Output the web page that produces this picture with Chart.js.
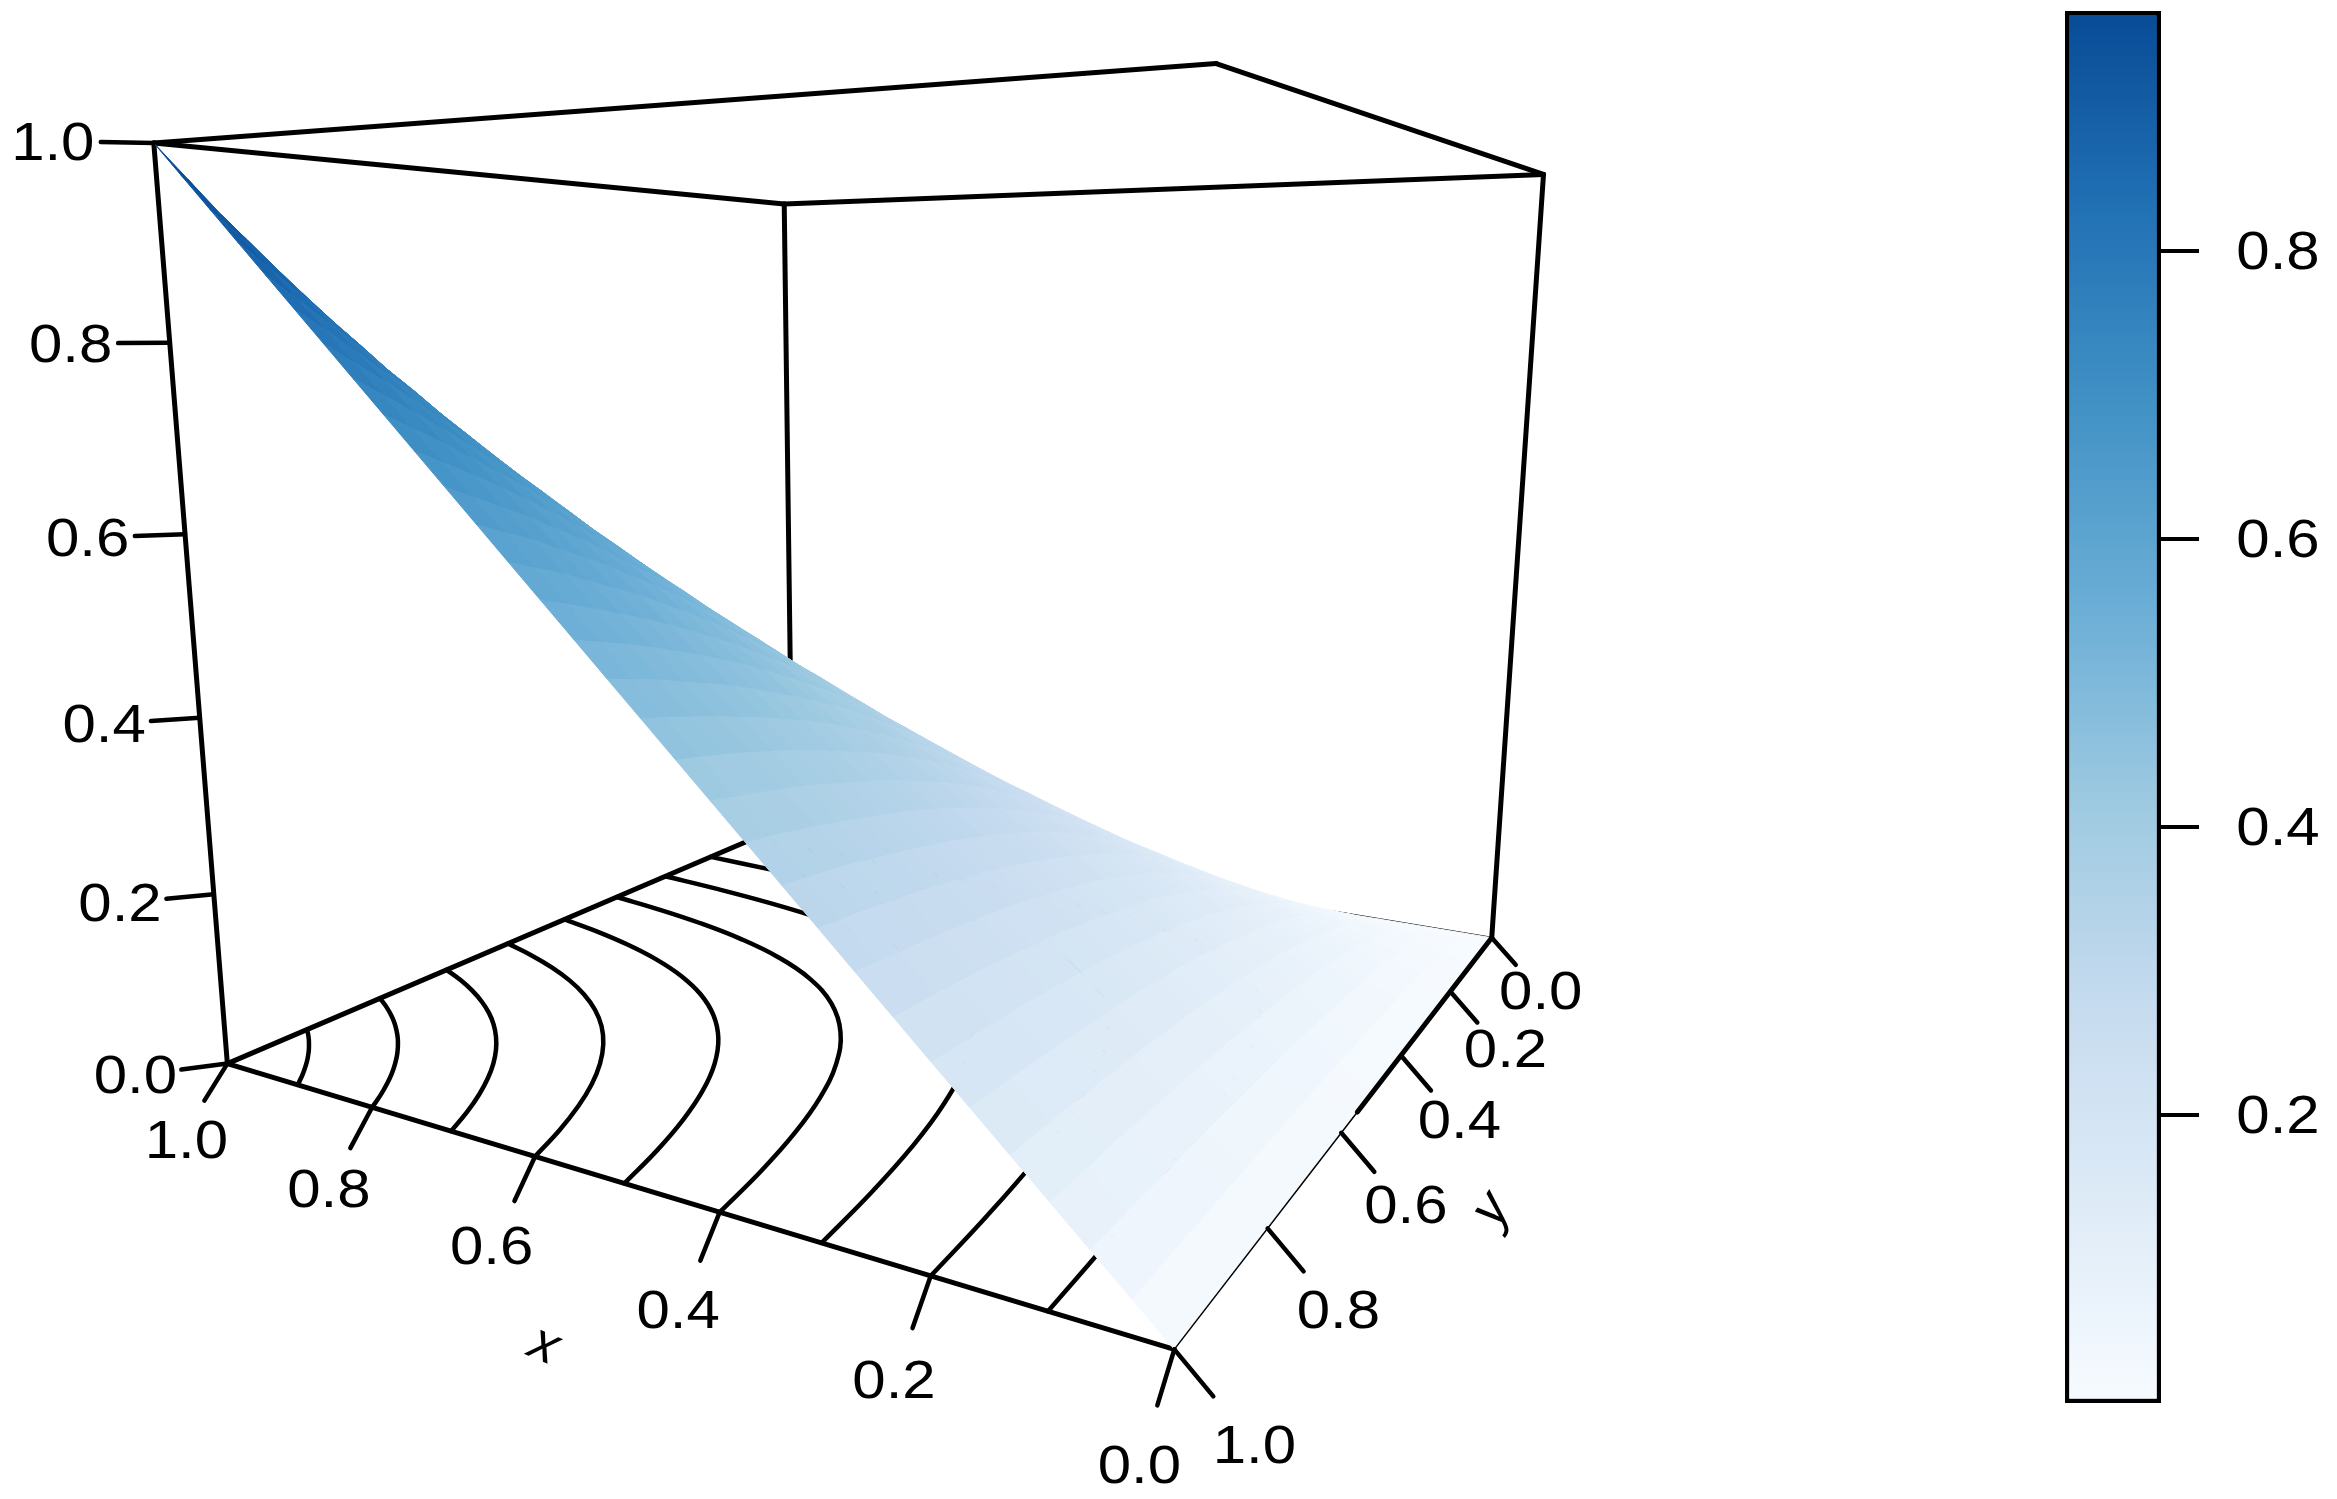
<!DOCTYPE html>
<html>
<head>
<meta charset="utf-8">
<title>Surface</title>
<script src="https://cdn.jsdelivr.net/npm/chart.js@4/dist/chart.umd.min.js"></script>
<style>
html, body { margin: 0; padding: 0; background: #fff; }
#wrap { position: relative; width: 2337px; height: 1499px; overflow: hidden; }
#surfaceChart { position: absolute; left: 0; top: 0; }
#keyChart { position: absolute; left: 2040px; top: 0; }
</style>
</head>
<body>
<div id="wrap">
<canvas id="surfaceChart" width="2337" height="1499"></canvas>
<canvas id="keyChart" width="297" height="1499"></canvas>
</div>
<script>
var gridX = [0, .033, .067, .1, .133, .167, .2, .233, .267, .3, .333, .367, .4, .433, .467, .5, .533, .567, .6, .633, .667, .7, .733, .767, .8, .833, .867, .9, .933, .967, 1];
var gridY = [0, .033, .067, .1, .133, .167, .2, .233, .267, .3, .333, .367, .4, .433, .467, .5, .533, .567, .6, .633, .667, .7, .733, .767, .8, .833, .867, .9, .933, .967, 1];
// surface height, upper triangle only (it is symmetric in x and y); row i starts at column j = i, both from 1
var surfaceZ = [
[.003,.006,.008,.011,.013,.015,.016,.018,.020,.021,.022,.023,.024,.025,.026,.027,.028,.029,.029,.030,.030,.031,.031,.032,.032,.032,.033,.033,.033,.033],
[.011,.016,.021,.025,.029,.032,.035,.039,.041,.044,.046,.048,.050,.052,.054,.055,.057,.058,.059,.060,.061,.062,.063,.064,.064,.065,.066,.066,.067],
[.023,.030,.036,.042,.047,.052,.057,.061,.065,.068,.072,.075,.077,.080,.082,.085,.087,.088,.090,.092,.093,.094,.095,.097,.098,.098,.099,.100],
[.039,.047,.054,.061,.068,.074,.080,.085,.090,.094,.098,.102,.106,.109,.112,.115,.117,.119,.122,.124,.125,.127,.128,.130,.131,.132,.133],
[.057,.066,.075,.083,.091,.098,.104,.110,.116,.121,.126,.131,.135,.139,.142,.146,.149,.151,.154,.156,.158,.160,.162,.164,.165,.167],
[.077,.088,.097,.107,.115,.123,.130,.137,.144,.150,.155,.160,.165,.170,.174,.177,.181,.184,.187,.190,.192,.194,.196,.198,.200],
[.100,.111,.122,.132,.141,.150,.158,.166,.173,.179,.185,.191,.196,.201,.206,.210,.214,.217,.221,.224,.226,.229,.231,.233],
[.124,.136,.147,.158,.168,.178,.187,.195,.203,.210,.216,.223,.228,.234,.239,.243,.247,.251,.255,.258,.261,.264,.267],
[.150,.162,.175,.186,.197,.207,.216,.225,.233,.241,.248,.255,.261,.267,.272,.277,.282,.286,.290,.294,.297,.300],
[.177,.190,.203,.215,.226,.237,.247,.257,.265,.274,.281,.288,.295,.301,.307,.312,.317,.322,.326,.330,.333],
[.205,.219,.233,.245,.257,.268,.279,.289,.298,.307,.315,.323,.330,.336,.342,.348,.353,.358,.363,.367],
[.235,.249,.263,.276,.289,.301,.312,.322,.332,.341,.350,.358,.365,.372,.379,.385,.390,.395,.400],
[.265,.281,.295,.309,.322,.334,.346,.357,.367,.376,.385,.394,.402,.409,.416,.422,.428,.433],
[.297,.313,.328,.342,.356,.368,.380,.392,.403,.413,.422,.431,.439,.447,.454,.461,.467],
[.330,.346,.362,.376,.391,.404,.416,.428,.439,.450,.460,.469,.477,.486,.493,.500],
[.364,.381,.397,.412,.426,.440,.453,.466,.477,.488,.498,.508,.517,.525,.533],
[.399,.416,.433,.448,.463,.478,.491,.504,.516,.528,.538,.548,.558,.567],
[.435,.453,.470,.486,.502,.516,.530,.544,.556,.568,.580,.590,.600],
[.472,.490,.508,.525,.541,.556,.571,.585,.598,.611,.622,.633],
[.510,.529,.547,.565,.582,.598,.613,.628,.641,.654,.667],
[.550,.569,.588,.607,.624,.641,.657,.672,.686,.700],
[.590,.611,.631,.650,.668,.685,.702,.718,.733],
[.633,.654,.675,.695,.714,.732,.750,.767],
[.677,.699,.721,.742,.762,.781,.800],
[.723,.747,.769,.791,.813,.833],
[.772,.797,.821,.844,.867],
[.823,.849,.875,.900],
[.878,.906,.933],
[.936,.967],
[1]
];

var contourLevels = [.1, .2, .3, .4, .5, .6, .7, .8, .9];
// x along each floor contour; y is the same list read backwards
var contourX = [
[.1,.1031,.1079,.1158,.1306,.1622,.2339,.3571,.4981,.6338,.7610,.8819,1],
[.2,.2063,.2154,.2295,.2527,.2930,.3608,.4575,.5685,.6808,.7898,.8955,1],
[.3,.3093,.3222,.3408,.3683,.4098,.4697,.5471,.6353,.7269,.8184,.9091,1],
[.4,.4122,.4281,.4494,.4782,.5172,.5679,.6295,.6988,.7719,.8468,.9226,1],
[.5,.5146,.5325,.5547,.5824,.6167,.6581,.7059,.7589,.8155,.8747,.9361,1],
[.6,.6161,.6346,.6559,.6806,.7089,.7409,.7766,.8156,.8575,.9021,.9495,1],
[.7,.7162,.7335,.7521,.7720,.7935,.8167,.8416,.8684,.8973,.9286,.9626,1],
[.8,.8142,.8282,.8421,.8562,.8704,.8852,.9006,.9170,.9346,.9540,.9755,1],
[.9,.9092,.9174,.9251,.9323,.9393,.9463,.9534,.9609,.9690,.9779,.9880,1]
];

var xTicks = [0, .2, .4, .6, .8, 1];
var yTicks = [0, .2, .4, .6, .8, 1];
var zTicks = [0, .2, .4, .6, .8, 1];
var keyTicks = [.2, .4, .6, .8];
var keyMin = 0;
var keyMax = .967;
var rampColors = ['#F7FBFF', '#DEEBF7', '#C6DBEF', '#9ECAE1', '#6BAED6', '#4292C6', '#2171B5', '#084B96'];

// view of the unit box: where each corner lands on the page
var viewCorners = [
[1, 1, 0, 228.5, 1063], [0, 1, 0, 1175, 1351], [0, 0, 0, 1492, 936], [1, 0, 0, 791, 823],
[1, 1, 1, 153.5, 142], [0, 1, 1, 1214, 64], [0, 0, 1, 1544, 175], [1, 0, 1, 785, 204]
];
// small hand corrections for tick label placement, one per tick
var xLabelNudge = [[0, 0], [0, -3], [-3, -1], [-3, 0], [-1, 1], [3, 4]];
var yLabelNudge = [[0, 0], [0, -3], [-3, -4], [-3, -4], [-3, -3], [0, 4]];

function zAt(i, j) {
if (i === 0 || j === 0) return 0;
var a = Math.min(i, j), b = Math.max(i, j);
return surfaceZ[a - 1][b - a];
}

function solve(A, b) {
var n = b.length;
for (var i = 0; i < n; i++) {
var best = i;
for (var r = i + 1; r < n; r++) if (Math.abs(A[r][i]) > Math.abs(A[best][i])) best = r;
var t = A[i]; A[i] = A[best]; A[best] = t;
var s = b[i]; b[i] = b[best]; b[best] = s;
for (var r2 = i + 1; r2 < n; r2++) {
var f = A[r2][i] / A[i][i];
for (var c = i; c < n; c++) A[r2][c] -= f * A[i][c];
b[r2] -= f * b[i];
}
}
var out = new Array(n);
for (var k = n - 1; k >= 0; k--) {
var v = b[k];
for (var c2 = k + 1; c2 < n; c2++) v -= A[k][c2] * out[c2];
out[k] = v / A[k][k];
}
return out;
}

function fitView() {
var rows = [], rhs = [];
viewCorners.forEach(function(p) {
var X = p[0], Y = p[1], Z = p[2], u = p[3], v = p[4];
rows.push([X, Y, Z, 1, 0, 0, 0, 0, -u * X, -u * Y, -u * Z]); rhs.push(u);
rows.push([0, 0, 0, 0, X, Y, Z, 1, -v * X, -v * Y, -v * Z]); rhs.push(v);
});
var N = [], m = [];
for (var i = 0; i < 11; i++) {
N.push(new Array(11).fill(0));
m.push(0);
for (var r = 0; r < rows.length; r++) {
for (var j = 0; j < 11; j++) N[i][j] += rows[r][i] * rows[r][j];
m[i] += rows[r][i] * rhs[r];
}
}
return solve(N, m);
}

var view = fitView();

function project(x, y, z) {
var w = view[8] * x + view[9] * y + view[10] * z + 1;
return {
x: (view[0] * x + view[1] * y + view[2] * z + view[3]) / w,
y: (view[4] * x + view[5] * y + view[6] * z + view[7]) / w
};
}

function rampColor(z) {
var t = Math.min(1, Math.max(0, (z - keyMin) / (keyMax - keyMin))) * (rampColors.length - 1);
var i = Math.min(rampColors.length - 2, Math.floor(t));
var f = t - i;
var a = parseInt(rampColors[i].slice(1), 16), b = parseInt(rampColors[i + 1].slice(1), 16);
var rgb = [16, 8, 0].map(function(sh) {
var ca = (a >> sh) & 255, cb = (b >> sh) & 255;
return Math.round(ca + (cb - ca) * f);
});
return 'rgb(' + rgb.join(',') + ')';
}

var layers = [];
var BOX_WIDTH = 5;
var TICK_WIDTH = 4.5;

function addLine(points, width, smooth) {
layers.push({
data: points, showLine: true, fill: false, borderColor: '#000', borderWidth: width,
pointRadius: 0, tension: smooth ? 0.4 : 0, borderCapStyle: 'round', borderJoinStyle: 'round', clip: false
});
}

function addFacet(points, color) {
layers.push({
data: points, showLine: true, fill: 'shape', backgroundColor: color, borderColor: color, borderWidth: 1,
pointRadius: 0, tension: 0, clip: false
});
}

function boxEdge(a, b, width) {
addLine([project(a[0], a[1], a[2]), project(b[0], b[1], b[2])], width);
}

function offsetPoint(p, dx, dy) {
return { x: p.x + dx, y: p.y + dy };
}

function buildLayers() {
// behind the surface
boxEdge([1, 1, 1], [0, 1, 1], BOX_WIDTH);
boxEdge([0, 1, 1], [0, 0, 1], BOX_WIDTH);
boxEdge([0, 0, 1], [1, 0, 1], BOX_WIDTH);
boxEdge([1, 0, 1], [1, 1, 1], BOX_WIDTH);
boxEdge([1, 1, 1], [1, 1, 0], BOX_WIDTH);
boxEdge([0, 0, 1], [0, 0, 0], BOX_WIDTH);
boxEdge([1, 0, 1], [1, 0, 0], BOX_WIDTH);
boxEdge([1, 1, 0], [0, 1, 0], BOX_WIDTH);
boxEdge([1, 1, 0], [1, 0, 0], BOX_WIDTH);
boxEdge([1, 0, 0], [0, 0, 0], 2);
contourLevels.forEach(function(level, k) {
var xs = contourX[k], ys = xs.slice().reverse();
addLine(xs.map(function(x, i) { return project(x, ys[i], 0); }), TICK_WIDTH, true);
});
// surface, far corner first
for (var i = gridX.length - 2; i >= 0; i--) {
for (var j = 0; j < gridY.length - 1; j++) {
var z00 = zAt(i, j), z01 = zAt(i, j + 1), z10 = zAt(i + 1, j), z11 = zAt(i + 1, j + 1);
addFacet([
project(gridX[i], gridY[j], z00),
project(gridX[i], gridY[j + 1], z01),
project(gridX[i + 1], gridY[j + 1], z11),
project(gridX[i + 1], gridY[j], z10),
project(gridX[i], gridY[j], z00)
], rampColor((z00 + z01 + z10 + z11) / 4));
}
}
// on top of the surface
boxEdge([0, 0, 0], [0, .55, 0], BOX_WIDTH);
boxEdge([0, .55, 0], [0, 1, 0], 1.5);
xTicks.forEach(function(x) {
var s = project(x, 1, 0);
addLine([s, offsetPoint(s, -17 - 6 * x, 56 - 19 * x)], TICK_WIDTH);
});
yTicks.forEach(function(y) {
var s = project(0, y, 0);
addLine([s, offsetPoint(s, 24 + 15 * y, 27 + 20 * y)], TICK_WIDTH);
});
zTicks.forEach(function(z) {
var s = project(1, 1, z);
addLine([s, offsetPoint(s, -46 - 7 * z, 6 - 7 * z)], TICK_WIDTH);
});
layers.forEach(function(d, n) { d.order = layers.length - n; });
}

function buildLabels() {
var out = [];
xTicks.forEach(function(x, k) {
var s = project(x, 1, 0);
out.push({ text: x.toFixed(1), x: s.x - 35 - 9 * x + xLabelNudge[k][0], y: s.y + 116 - 44 * x + xLabelNudge[k][1] });
});
yTicks.forEach(function(y, k) {
var s = project(0, y, 0);
out.push({ text: y.toFixed(1), x: s.x + 49 + 31 * y + yLabelNudge[k][0], y: s.y + 53 + 39 * y + yLabelNudge[k][1] });
});
zTicks.forEach(function(z) {
var s = project(1, 1, z);
out.push({ text: z.toFixed(1), x: s.x - 92 - 9 * z, y: s.y + 11 - 12 * z });
});
return out;
}

var TICK_FONT = '54px "Liberation Sans"';
var TEXT_STRETCH = 1.11;

function drawStretched(ctx, text, x, y) {
ctx.save();
ctx.translate(x, y);
ctx.scale(TEXT_STRETCH, 1);
ctx.font = TICK_FONT;
ctx.fillStyle = '#000';
ctx.textAlign = 'center';
ctx.textBaseline = 'alphabetic';
ctx.fillText(text, 0, 18);
ctx.restore();
}

function drawTitle(ctx, text, x, y, angle) {
ctx.save();
ctx.translate(x, y);
ctx.rotate(angle);
ctx.font = 'italic 54px "Liberation Sans"';
ctx.fillStyle = '#000';
ctx.textAlign = 'center';
ctx.textBaseline = 'middle';
ctx.fillText(text, 0, 0);
ctx.restore();
}

var surfaceText = {
id: 'surfaceText',
afterDatasetsDraw: function(chart) {
var ctx = chart.ctx, sx = chart.scales.x, sy = chart.scales.y;
buildLabels().forEach(function(l) {
drawStretched(ctx, l.text, sx.getPixelForValue(l.x), sy.getPixelForValue(l.y));
});
drawTitle(ctx, 'x', sx.getPixelForValue(544), sy.getPixelForValue(1346), 0.4);
drawTitle(ctx, 'y', sx.getPixelForValue(1492), sy.getPixelForValue(1210), -1.0);
}
};

var keyText = {
id: 'keyText',
afterDraw: function(chart) {
var sc = chart.scales.y;
keyTicks.forEach(function(v) {
drawStretched(chart.ctx, v.toFixed(1), 238, sc.getPixelForValue(v));
});
}
};

function initSurface() {
buildLayers();
new Chart(document.getElementById('surfaceChart').getContext('2d'), {
type: 'scatter',
data: { datasets: layers },
options: {
responsive: false, animation: false, events: [],
layout: { padding: 0 },
plugins: { legend: { display: false }, tooltip: { enabled: false } },
scales: {
x: { type: 'linear', display: false, min: 0, max: 2337 },
y: { type: 'linear', display: false, min: 0, max: 1499, reverse: true }
}
},
plugins: [surfaceText]
});
}

function initKey() {
new Chart(document.getElementById('keyChart').getContext('2d'), {
type: 'bar',
data: {
labels: [''],
datasets: [{
data: [keyMax], barPercentage: 1, categoryPercentage: 1,
borderColor: '#000', borderWidth: 4.5, borderSkipped: false,
backgroundColor: function(c) {
var area = c.chart.chartArea;
if (!area) return rampColors[0];
var g = c.chart.ctx.createLinearGradient(0, area.bottom, 0, area.top);
rampColors.forEach(function(col, i) { g.addColorStop(i / (rampColors.length - 1), col); });
return g;
}
}]
},
options: {
responsive: false, animation: false, events: [],
layout: { padding: { left: 25, top: 11, right: 0, bottom: 96 } },
plugins: { legend: { display: false }, tooltip: { enabled: false } },
scales: {
x: { display: false },
y: {
position: 'right', min: keyMin, max: keyMax,
afterBuildTicks: function(s) { s.ticks = keyTicks.map(function(v) { return { value: v }; }); },
afterFit: function(s) { s.width = 176; },
grid: { drawOnChartArea: false, drawTicks: true, tickLength: 38, color: '#000', lineWidth: 4 },
border: { display: false },
ticks: { color: 'rgba(0,0,0,0)', font: { size: 10 } }
}
}
},
plugins: [keyText]
});
}

document.addEventListener('DOMContentLoaded', function() {
initSurface();
initKey();
});
</script>
</body>
</html>
